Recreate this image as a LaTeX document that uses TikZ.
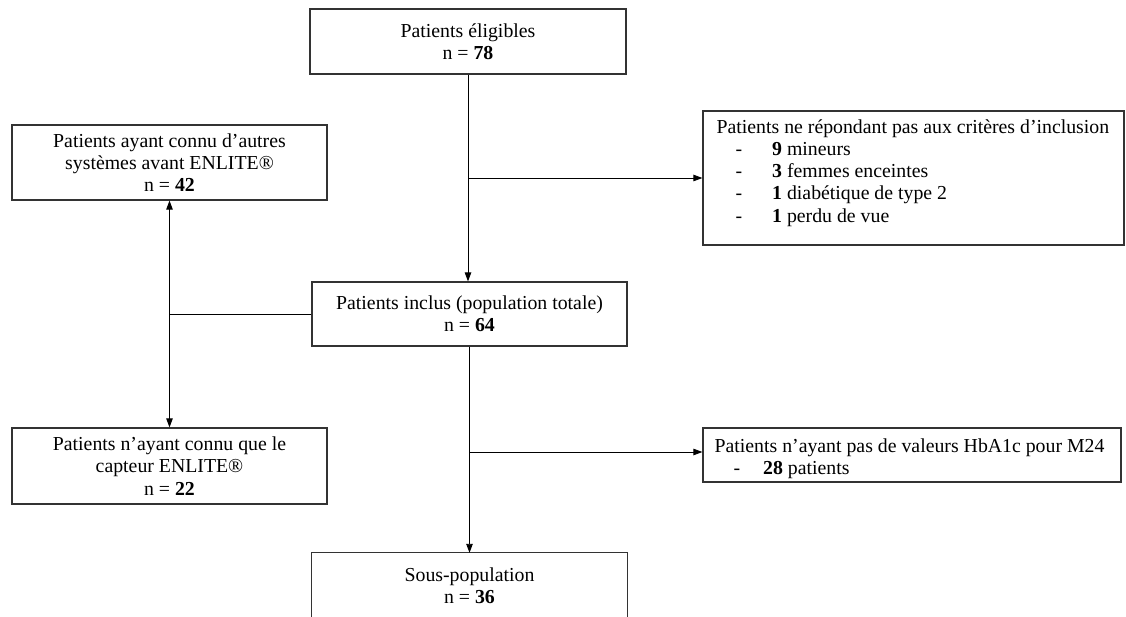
\documentclass[tikz,border=0pt]{standalone}
\usepackage{fontspec}
\setmainfont{Liberation Serif}
\usetikzlibrary{arrows.meta}
\begin{document}
\begin{tikzpicture}[x=1pt,y=-1pt,
 txt/.style={inner sep=0pt, align=center, font=\fontsize{19.8}{22.2}\selectfont},
 box/.style={txt, draw=black!80, line width=1.2pt},
 conn/.style={line width=0.9pt, black},
 arr/.style={conn, -{Triangle[length=9pt,width=6.5pt]}}]
\useasboundingbox (0,0) rectangle (1126,617);
\node[box, minimum width=316pt, minimum height=65pt] (elig) at (468,41.5) {Patients éligibles\\n = \textbf{78}};
\node[box, minimum width=315pt, minimum height=75pt] (left1) at (169.5,162.5) {Patients ayant connu d’autres\\systèmes avant ENLITE®\\n = \textbf{42}};
\node[box, minimum width=421pt, minimum height=134pt] (crit) at (913.5,178) {};
\node[txt, align=left, anchor=west] (crittxt) at ([xshift=14pt,yshift=5pt]crit.west) {Patients ne répondant pas aux critères d’inclusion\\
\hspace*{19pt}-\hspace{30pt}\textbf{9} mineurs\\
\hspace*{19pt}-\hspace{30pt}\textbf{3} femmes enceintes\\
\hspace*{19pt}-\hspace{30pt}\textbf{1} diabétique de type 2\\
\hspace*{19pt}-\hspace{30pt}\textbf{1} perdu de vue};
\node[box, minimum width=315pt, minimum height=64pt] (incl) at (469.5,314) {Patients inclus (population totale)\\n = \textbf{64}};
\node[box, minimum width=315pt, minimum height=76pt] (left2) at (169.5,466) {Patients n’ayant connu que le\\capteur ENLITE®\\n = \textbf{22}};
\node[box, minimum width=418pt, minimum height=54pt] (hba) at (912,455) {};
\node[txt, align=left, anchor=west] (hbatxt) at ([xshift=12pt,yshift=-4pt]hba.west) {Patients n’ayant pas de valeurs HbA1c pour M24\\
\hspace*{19pt}-\hspace{23pt}\textbf{28} patients};
\node[txt, minimum width=315pt, minimum height=66pt] (sub) at (469.5,586) {Sous-population\\n = \textbf{36}};
\draw[line width=1.2pt, black!80] (sub.south west) -- (sub.north west) -- (sub.north east) -- (sub.south east);
% connectors
\draw[arr] (elig.south) -- (elig.south |- incl.north);
\coordinate (b1) at (468,178);
\draw[arr] (b1) -- (crit.west |- b1);
\coordinate (b2) at (169.5,314);
\draw[conn] (incl.west) -- (b2);
\draw[arr] (b2) -- (left1.south);
\draw[arr] (b2) -- (left2.north);
\draw[arr] (incl.south) -- (sub.north);
\coordinate (b3) at (469.5,452);
\draw[arr] (b3) -- (hba.west |- b3);
\end{tikzpicture}
\end{document}
